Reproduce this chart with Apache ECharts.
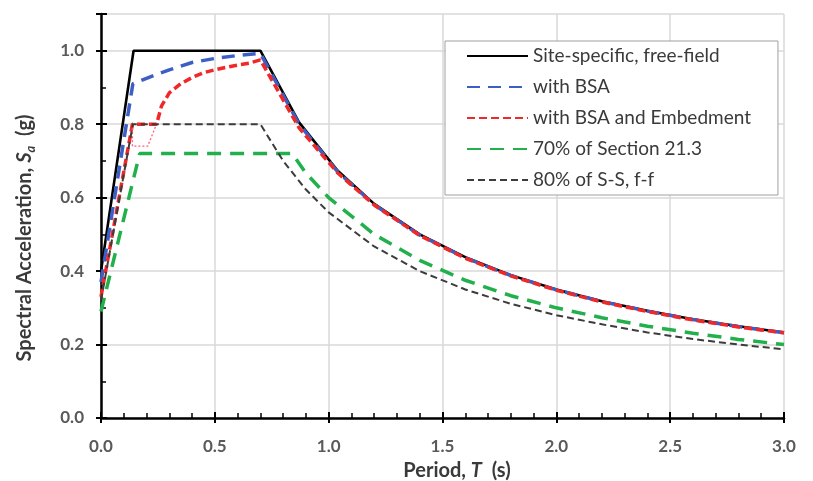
<!DOCTYPE html>
<html>
<head>
<meta charset="utf-8">
<script src="https://cdn.jsdelivr.net/npm/echarts@6/dist/echarts.min.js"></script>
<style>html,body{margin:0;padding:0;background:#fff}#c{width:813px;height:481px}</style>
</head>
<body>
<div id="c"></div>
<script>
// ---- data ----
const seriesNames = ['Site-specific, free-field', 'with BSA', 'with BSA and Embedment', '70% of Section 21.3', '80% of S-S, f-f'];
const xTickLabels = ['0.0', '0.5', '1.0', '1.5', '2.0', '2.5', '3.0'];
const yTickLabels = ['0.0', '0.2', '0.4', '0.6', '0.8', '1.0'];

const T_ff  = [0, 0.143, 0.70, 0.87, 1.04, 1.20, 1.40, 1.60, 1.80, 2.00, 2.20, 2.40, 2.60, 2.80, 3.00];
const Sa_ff = [0.40, 1.00, 1.00, 0.805, 0.673, 0.583, 0.500, 0.438, 0.389, 0.350, 0.318, 0.292, 0.269, 0.250, 0.233];

const T_bsa  = [0, 0.14, 0.20, 0.25, 0.30, 0.35, 0.40, 0.50, 0.60, 0.70, 0.87, 1.04, 1.20, 1.40, 1.60, 1.80, 2.00, 2.20, 2.40, 2.60, 2.80, 3.00];
const Sa_bsa = [0.37, 0.91, 0.925, 0.937, 0.948, 0.958, 0.968, 0.979, 0.987, 0.993, 0.800, 0.670, 0.581, 0.498, 0.436, 0.388, 0.349, 0.317, 0.291, 0.268, 0.249, 0.232];

const T_emb  = [0, 0.138, 0.244, 0.266, 0.30, 0.35, 0.40, 0.45, 0.50, 0.55, 0.60, 0.65, 0.70, 0.87, 1.04, 1.20, 1.40, 1.60, 1.80, 2.00, 2.20, 2.40, 2.60, 2.80, 3.00];
const Sa_emb = [0.33, 0.80, 0.80, 0.85, 0.885, 0.91, 0.927, 0.940, 0.948, 0.955, 0.961, 0.966, 0.975, 0.790, 0.667, 0.580, 0.497, 0.435, 0.387, 0.348, 0.316, 0.290, 0.267, 0.248, 0.232];

const T_embStep  = [0.138, 0.138, 0.205, 0.244];
const Sa_embStep = [0.80, 0.74, 0.74, 0.80];

const T_s213  = [0, 0.17, 0.84, 0.90, 1.00, 1.20, 1.40, 1.60, 1.80, 2.00, 2.20, 2.40, 2.60, 2.80, 3.00];
const Sa_s213 = [0.29, 0.72, 0.72, 0.667, 0.600, 0.500, 0.429, 0.375, 0.333, 0.300, 0.273, 0.250, 0.231, 0.214, 0.200];

const T_80  = [0, 0.14, 0.70, 0.80, 0.90, 1.00, 1.20, 1.40, 1.60, 1.80, 2.00, 2.20, 2.40, 2.60, 2.80, 3.00];
const Sa_80 = [0.32, 0.80, 0.80, 0.700, 0.622, 0.560, 0.467, 0.400, 0.350, 0.311, 0.280, 0.255, 0.233, 0.215, 0.200, 0.187];

// ---- chart ----
const FONT = 'Lato, "Open Sans", sans-serif';
const zip = (xs, ys) => xs.map((x, i) => [x, ys[i]]);
const fmt = (labels, step) => v => {
  const k = v / step;
  return Math.abs(k - Math.round(k)) < 1e-6 ? (labels[Math.round(k)] || '') : '';
};

const chart = echarts.init(document.getElementById('c'), null, { renderer: 'canvas' });
const axisLineStyle = { color: '#000', width: 2.5 };
const NAME_COLOR = '#3a3a3a';

const option = {
  animation: false,
  backgroundColor: '#fff',
  grid: { left: 101, right: 29, top: 14, bottom: 63, containLabel: false, outerBoundsMode: 'none' },
  legend: {
    orient: 'vertical',
    left: 445, top: 41,
    data: seriesNames,
    itemWidth: 61, itemHeight: 14, itemGap: 11,
    padding: [5, 27, 5, 21],
    borderColor: '#a0a0a0', borderWidth: 1, backgroundColor: '#fff',
    itemStyle: { opacity: 0 },
    textStyle: { fontFamily: FONT, fontSize: 19, color: '#3a3a3a', lineHeight: 20 }
  },
  xAxis: [{
    type: 'value', min: 0, max: 3, interval: 0.5,
    name: '{a|Period, }{b|T}{a|  (s)}',
    nameLocation: 'middle', nameGap: 43,
    nameTextStyle: { padding: [0, 0, 0, 29], rich: {
      a: { fontFamily: FONT, fontSize: 20, fontWeight: 'bold', color: NAME_COLOR },
      b: { fontFamily: FONT, fontSize: 20, fontWeight: 'bold', fontStyle: 'italic', color: NAME_COLOR }
    } },
    axisLine: { show: true, onZero: false, lineStyle: axisLineStyle },
    axisTick: { show: true, inside: true, length: 6, lineStyle: { color: '#000', width: 2 } },
    minorTick: { show: true, splitNumber: 5, length: 5, lineStyle: { color: '#000', width: 1.5 } },
    axisLabel: { formatter: fmt(xTickLabels, 0.5), fontFamily: FONT, fontSize: 17, fontWeight: 'bold', color: '#5a5a5a', margin: 20 },
    splitLine: { show: true, lineStyle: { color: '#d9d9d9', width: 1.5 } }
  }, {
    type: 'value', min: 0, max: 3, interval: 0.5, position: 'bottom',
    axisLine: { show: false, onZero: false },
    axisTick: { show: true, inside: false, length: 5, lineStyle: { color: '#000', width: 2 } },
    axisLabel: { show: false }, splitLine: { show: false }
  }],
  yAxis: [{
    type: 'value', min: 0, max: 1.1, interval: 0.2,
    name: '{a|Spectral Acceleration, }{b|S}{c|a}{a|  (g)}',
    nameLocation: 'middle', nameGap: 64, nameRotate: 90,
    nameTextStyle: { padding: [0, 44, 0, 0], rich: {
      a: { fontFamily: FONT, fontSize: 20, fontWeight: 'bold', color: NAME_COLOR, lineHeight: 24 },
      b: { fontFamily: FONT, fontSize: 20, fontWeight: 'bold', fontStyle: 'italic', color: NAME_COLOR, lineHeight: 24 },
      c: { fontFamily: FONT, fontSize: 13, fontWeight: 'bold', fontStyle: 'italic', color: NAME_COLOR, lineHeight: 15, verticalAlign: 'bottom' }
    } },
    axisLine: { show: true, onZero: false, lineStyle: axisLineStyle },
    axisTick: { show: true, inside: true, length: 6, lineStyle: { color: '#000', width: 2 } },
    minorTick: { show: true, splitNumber: 2, length: 5, lineStyle: { color: '#000', width: 1.5 } },
    axisLabel: { formatter: fmt(yTickLabels, 0.2), fontFamily: FONT, fontSize: 17, fontWeight: 'bold', color: '#5a5a5a', margin: 17 },
    splitLine: { show: true, lineStyle: { color: '#d9d9d9', width: 1.5 } }
  }, {
    type: 'value', min: 0, max: 1.1, interval: 0.2, position: 'left',
    axisLine: { show: false, onZero: false },
    axisTick: { show: true, inside: false, length: 5, lineStyle: { color: '#000', width: 2 } },
    axisLabel: { show: false }, splitLine: { show: false }
  }],
  series: [
    { name: seriesNames[0], type: 'line', data: zip(T_ff, Sa_ff), symbol: 'none', z: 2,
      color: '#000', lineStyle: { color: '#000', width: 2.6, type: 'solid' } },
    { name: seriesNames[1], type: 'line', data: zip(T_bsa, Sa_bsa), symbol: 'none', z: 3,
      color: '#3b5fc4', lineStyle: { color: '#3b5fc4', width: 3.5, type: [13, 8] } },
    { name: seriesNames[2], type: 'line', data: zip(T_emb, Sa_emb), symbol: 'none', z: 4,
      color: '#f02828', lineStyle: { color: '#f02828', width: 3.5, type: [8, 4] } },
    { name: 'emb-step', type: 'line', data: zip(T_embStep, Sa_embStep), symbol: 'none', z: 4,
      color: '#ff5c7c', lineStyle: { color: '#ff5c7c', width: 1.3, type: [2, 2] } },
    { name: seriesNames[3], type: 'line', data: zip(T_s213, Sa_s213), symbol: 'none', z: 5,
      color: '#22b04c', lineStyle: { color: '#22b04c', width: 3.5, type: [14, 9] } },
    { name: seriesNames[4], type: 'line', data: zip(T_80, Sa_80), symbol: 'none', z: 6,
      color: '#3c3c3c', lineStyle: { color: '#3c3c3c', width: 2, type: [7, 4] } }
  ]
};
chart.setOption(option);
</script>
</body>
</html>
